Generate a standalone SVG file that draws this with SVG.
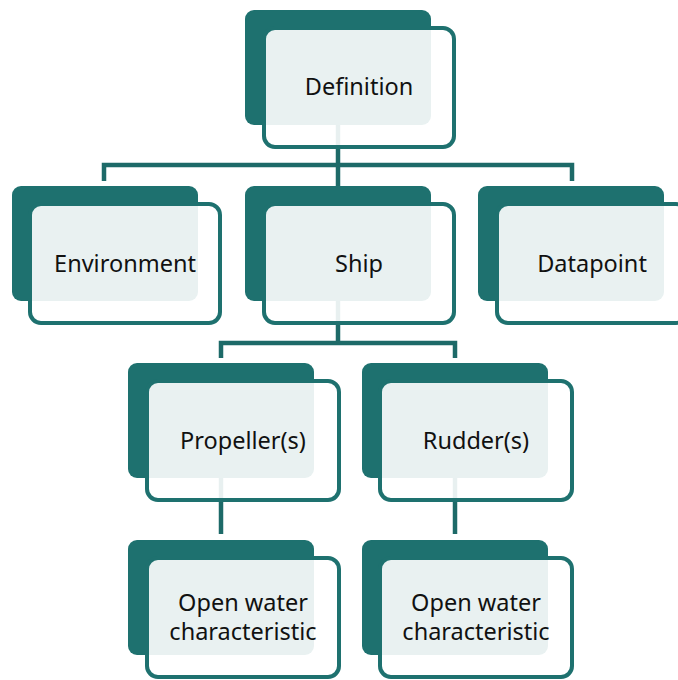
<svg xmlns="http://www.w3.org/2000/svg" width="678" height="680" viewBox="0 0 678 680">
  <style>
    .back { fill: #1e716f; }
    .front { fill: #ffffff; fill-opacity: 0.9; stroke: #1e716f; stroke-width: 4; }
    .link { fill: none; stroke: #1d6a68; stroke-width: 4.5; }
    .label { font-family: "Noto Sans", "Open Sans", sans-serif; font-size: 23.5px; fill: #111111; text-anchor: middle; }
  </style>

  <!-- connectors -->
  <g id="connectors" class="link">
    <path d="M338 125 V186"/>
    <path d="M104 181 V165 H572 V181"/>
    <path d="M338 301 V343"/>
    <path d="M221 358 V343 H455 V358"/>
    <path d="M221 478 V534"/>
    <path d="M455 478 V534"/>
  </g>

  <g id="definition">
    <rect class="back" x="245" y="10" width="186" height="115" rx="9"/>
    <rect class="front" x="264" y="28" width="190" height="119" rx="11"/>
    <text class="label" x="359" y="95">Definition</text>
  </g>

  <g id="environment">
    <rect class="back" x="12" y="186" width="186" height="115" rx="9"/>
    <rect class="front" x="30" y="204" width="190" height="119" rx="11"/>
    <text class="label" x="125" y="272">Environment</text>
  </g>

  <g id="ship">
    <rect class="back" x="245" y="186" width="186" height="115" rx="9"/>
    <rect class="front" x="264" y="204" width="190" height="119" rx="11"/>
    <text class="label" x="359" y="272">Ship</text>
  </g>

  <g id="datapoint">
    <rect class="back" x="478" y="186" width="186" height="115" rx="9"/>
    <rect class="front" x="497" y="204" width="190" height="119" rx="11"/>
    <text class="label" x="592" y="272">Datapoint</text>
  </g>

  <g id="propellers">
    <rect class="back" x="128" y="363" width="186" height="115" rx="9"/>
    <rect class="front" x="147" y="381" width="192" height="119" rx="11"/>
    <text class="label" x="243" y="449">Propeller(s)</text>
  </g>

  <g id="rudders">
    <rect class="back" x="362" y="363" width="186" height="115" rx="9"/>
    <rect class="front" x="380" y="381" width="192" height="119" rx="11"/>
    <text class="label" x="476" y="449">Rudder(s)</text>
  </g>

  <g id="propeller-open-water">
    <rect class="back" x="128" y="540" width="186" height="115" rx="9"/>
    <rect class="front" x="147" y="558" width="192" height="119" rx="11"/>
    <text class="label" x="243" y="611">Open water</text>
    <text class="label" x="243" y="640">characteristic</text>
  </g>

  <g id="rudder-open-water">
    <rect class="back" x="362" y="540" width="186" height="115" rx="9"/>
    <rect class="front" x="380" y="558" width="192" height="119" rx="11"/>
    <text class="label" x="476" y="611">Open water</text>
    <text class="label" x="476" y="640">characteristic</text>
  </g>
</svg>
